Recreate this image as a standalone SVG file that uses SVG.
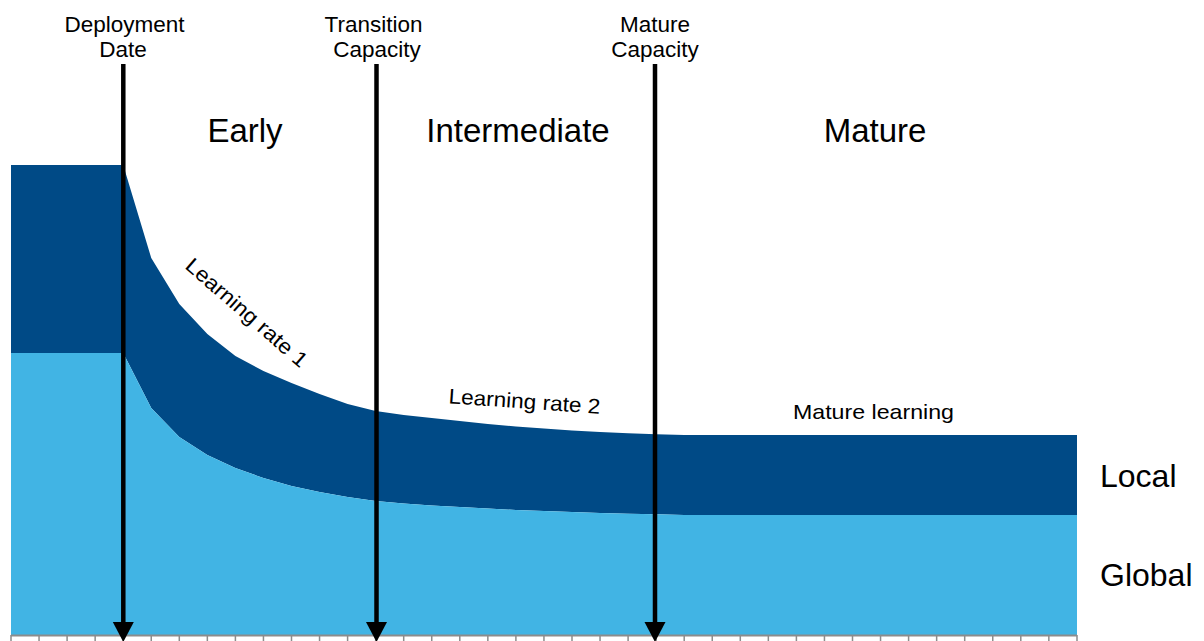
<svg xmlns="http://www.w3.org/2000/svg" width="1204" height="641" viewBox="0 0 1204 641">
  <style>
    .lbl { font-family: "Liberation Sans", Arial, sans-serif; fill: #000; }
    .top { font-size: 22.5px; text-anchor: middle; }
    .phase { font-size: 33px; text-anchor: middle; }
    .side { font-size: 32px; }
    .rate { font-size: 21px; }
    .arrow { stroke: #000; stroke-width: 4.5; fill: none; }
    .tick { stroke: #8C8C8C; stroke-width: 1.5; }
  </style>
  <rect width="1204" height="641" fill="#fff"/>

  <g id="areas">
    <path id="local-area" fill="#004A86" d="M11,165 L123.2,165 L151.25,258 L179.3,304 L207.35,334 L235.4,356 L263.45,371 L291.5,383 L319.55,394 L347.6,404 L375.65,411 L403.7,415 L431.75,418 L459.8,421 L487.85,424 L515.9,426.5 L543.95,428.5 L572,430.5 L600.05,432 L628.1,433.2 L656.15,434.3 L684.2,435 L1077,435 L1077,515 L684.2,515 L656.15,514.3 L628.1,513.7 L600.05,513 L572,512 L543.95,511 L515.9,510 L487.85,508.5 L459.8,507 L431.75,505.5 L403.7,503.5 L375.65,501 L347.6,497 L319.55,492 L291.5,486 L263.45,478 L235.4,468 L207.35,455 L179.3,437 L151.25,408 L123.2,353 L11,353 Z"/>
    <path id="global-area" fill="#41B4E4" d="M11,353 L123.2,353 L151.25,408 L179.3,437 L207.35,455 L235.4,468 L263.45,478 L291.5,486 L319.55,492 L347.6,497 L375.65,501 L403.7,503.5 L431.75,505.5 L459.8,507 L487.85,508.5 L515.9,510 L543.95,511 L572,512 L600.05,513 L628.1,513.7 L656.15,514.3 L684.2,515 L1077,515 L1077,635 L11,635 Z"/>
  </g>

  <g id="axis">
    <line x1="11" y1="635.5" x2="1077" y2="635.5" stroke="#8C8C8C" stroke-width="2"/>
    <path class="tick" d="M11,635 V641 M39.05,635 V641 M67.1,635 V641 M95.15,635 V641 M123.2,635 V641 M151.25,635 V641 M179.3,635 V641 M207.35,635 V641 M235.4,635 V641 M263.45,635 V641 M291.5,635 V641 M319.55,635 V641 M347.6,635 V641 M375.65,635 V641 M403.7,635 V641 M431.75,635 V641 M459.8,635 V641 M487.85,635 V641 M515.9,635 V641 M543.95,635 V641 M572,635 V641 M600.05,635 V641 M628.1,635 V641 M656.15,635 V641 M684.2,635 V641 M712.25,635 V641 M740.3,635 V641 M768.35,635 V641 M796.4,635 V641 M824.45,635 V641 M852.5,635 V641 M880.55,635 V641 M908.6,635 V641 M936.65,635 V641 M964.7,635 V641 M992.75,635 V641 M1020.8,635 V641 M1048.85,635 V641 M1077,635 V641"/>
  </g>

  <g id="connectors">
    <line class="arrow" x1="123.3" y1="64" x2="123.3" y2="624"/>
    <polygon points="112.8,622 133.8,622 123.3,642" fill="#000"/>
    <line class="arrow" x1="376.5" y1="64" x2="376.5" y2="624"/>
    <polygon points="366,622 387,622 376.5,642" fill="#000"/>
    <line class="arrow" x1="655" y1="64" x2="655" y2="624"/>
    <polygon points="644.5,622 665.5,622 655,642" fill="#000"/>
  </g>

  <g id="node-deployment-date">
    <text class="lbl top" x="124.5" y="31.5">Deployment</text>
    <text class="lbl top" x="123" y="57">Date</text>
  </g>
  <g id="node-transition-capacity">
    <text class="lbl top" x="373.5" y="31.5">Transition</text>
    <text class="lbl top" x="377" y="57">Capacity</text>
  </g>
  <g id="node-mature-capacity">
    <text class="lbl top" x="655" y="31.5">Mature</text>
    <text class="lbl top" x="655" y="57">Capacity</text>
  </g>

  <g id="node-early"><text class="lbl phase" x="245" y="142">Early</text></g>
  <g id="node-intermediate"><text class="lbl phase" x="518" y="142">Intermediate</text></g>
  <g id="node-mature"><text class="lbl phase" x="875" y="142">Mature</text></g>

  <g id="node-learning-rate-1">
    <text class="lbl rate" text-anchor="middle" textLength="154" lengthAdjust="spacingAndGlyphs" transform="translate(242,318) rotate(41)">Learning rate 1</text>
  </g>
  <g id="node-learning-rate-2">
    <text class="lbl rate" text-anchor="middle" textLength="152" lengthAdjust="spacingAndGlyphs" transform="translate(524,408.5) rotate(4)">Learning rate 2</text>
  </g>
  <g id="node-mature-learning">
    <text class="lbl rate" x="793" y="419" textLength="161" lengthAdjust="spacingAndGlyphs">Mature learning</text>
  </g>

  <g id="node-local"><text class="lbl side" x="1100" y="487">Local</text></g>
  <g id="node-global"><text class="lbl side" x="1100" y="586">Global</text></g>
</svg>
